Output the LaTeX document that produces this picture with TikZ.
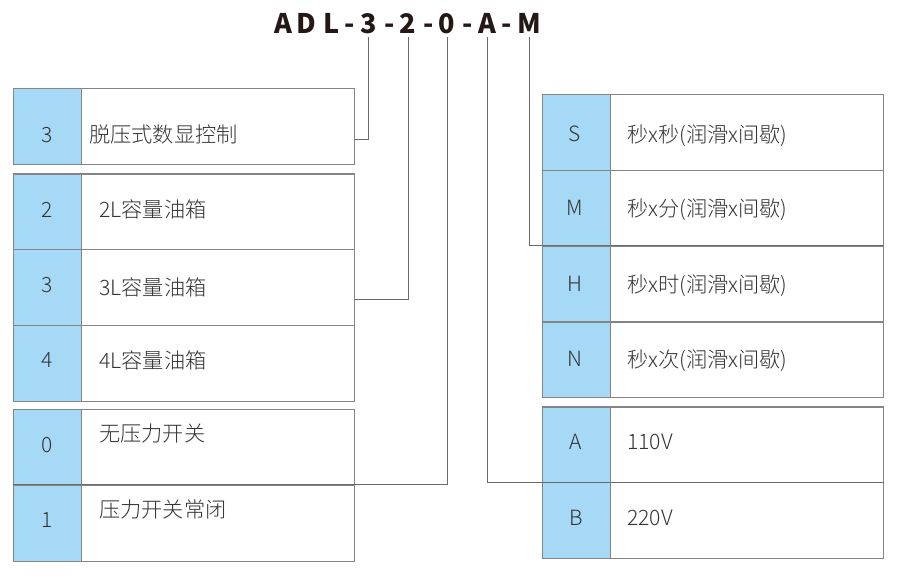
\documentclass[tikz,border=0pt]{standalone}
\usepackage{fontspec}
\setmainfont{Noto Sans CJK SC}
\newfontfamily\lightcjk{Noto Sans CJK SC Light}
\definecolor{cellblue}{HTML}{A5D9F5}
\definecolor{framegrey}{HTML}{858585}
\definecolor{linegrey}{HTML}{6A6A6A}
\definecolor{txt}{HTML}{333333}
\definecolor{ttl}{HTML}{231815}
\begin{document}
\begin{tikzpicture}[x=1pt,y=-1pt,
  cell/.style={draw=framegrey, line width=1.2pt, minimum height=75.8pt, inner sep=0pt, anchor=north west},
  codecell/.style={cell, fill=cellblue, minimum width=68pt},
  desccell/.style={cell, fill=white, minimum width=273pt},
  codetxt/.style={anchor=base, inner sep=0pt, text=txt, font=\lightcjk\fontsize{21}{24}\selectfont},
  desctxt/.style={anchor=base west, inner sep=0pt, text=txt, font=\lightcjk\fontsize{21.2}{24}\selectfont},
  ttlchar/.style={anchor=base, inner sep=0pt, text=ttl, font=\fontsize{27}{30}\selectfont\bfseries},
  conn/.style={draw=linegrey, line width=0.9pt}
]
\useasboundingbox (0,0) rectangle (900,579);

% ---- title ----
\node[ttlchar] (tA1) at (283,33) {A};
\node[ttlchar] (tD)  at (306,33) {D};
\node[ttlchar] (tL)  at (332,33) {L};
\node[ttlchar] (h1)  at (349.5,33) {-};
\node[ttlchar] (t3)  at (368.5,33) {3};
\node[ttlchar] (h2)  at (389.5,33) {-};
\node[ttlchar] (t2)  at (408,33) {2};
\node[ttlchar] (h3)  at (428.5,33) {-};
\node[ttlchar] (t0)  at (447,33) {0};
\node[ttlchar] (h4)  at (467.5,33) {-};
\node[ttlchar] (tA)  at (487,33) {A};
\node[ttlchar] (h5)  at (507,33) {-};
\node[ttlchar] (tM)  at (529,33) {M};

% ---- left group 1 ----
\node[codecell] (L1c) at (13,88) {};
\node[desccell] (L1d) at (81,88) {};
% ---- left group 2 ----
\node[codecell] (L2c) at (13,173.3) {};
\node[desccell] (L2d) at (81,173.3) {};
\node[codecell] (L3c) at (13,249.1) {};
\node[desccell] (L3d) at (81,249.1) {};
\node[codecell] (L4c) at (13,324.9) {};
\node[desccell] (L4d) at (81,324.9) {};
% ---- left group 3 ----
\node[codecell] (L5c) at (13,409) {};
\node[desccell] (L5d) at (81,409) {};
\node[codecell] (L6c) at (13,484.8) {};
\node[desccell] (L6d) at (81,484.8) {};

% ---- right group 1 ----
\node[codecell] (R1c) at (542,94) {};
\node[desccell] (R1d) at (610,94) {};
\node[codecell] (R2c) at (542,169.8) {};
\node[desccell] (R2d) at (610,169.8) {};
\node[codecell] (R3c) at (542,245.6) {};
\node[desccell] (R3d) at (610,245.6) {};
\node[codecell] (R4c) at (542,321.4) {};
\node[desccell] (R4d) at (610,321.4) {};
% ---- right group 2 ----
\node[codecell] (R5c) at (542,406.3) {};
\node[desccell] (R5d) at (610,406.3) {};
\node[codecell] (R6c) at (542,482.1) {};
\node[desccell] (R6d) at (610,482.1) {};

% ---- texts left ----
\node[codetxt] (L1ct) at (47,142.5) {3};
\node[desctxt] (L1dt) at (89,142.5) {脱压式数显控制};
\node[codetxt] (L2ct) at (47,217.5) {2};
\node[desctxt] (L2dt) at (99,217.5) {2L容量油箱};
\node[codetxt] (L3ct) at (47,292.5) {3};
\node[desctxt] (L3dt) at (99,295) {3L容量油箱};
\node[codetxt] (L4ct) at (47,367) {4};
\node[desctxt] (L4dt) at (99,368) {4L容量油箱};
\node[codetxt] (L5ct) at (47,452.5) {0};
\node[desctxt] (L5dt) at (99,441.5) {无压力开关};
\node[codetxt] (L6ct) at (47,527) {1};
\node[desctxt] (L6dt) at (99,517.5) {压力开关常闭};

% ---- texts right ----
\node[codetxt] (R1ct) at (575,141) {S};
\node[desctxt] (R1dt) at (627,142) {秒x秒(润滑x间歇)};
\node[codetxt] (R2ct) at (575,215.7) {M};
\node[desctxt] (R2dt) at (627,216.5) {秒x分(润滑x间歇)};
\node[codetxt] (R3ct) at (575,291) {H};
\node[desctxt] (R3dt) at (627,292) {秒x时(润滑x间歇)};
\node[codetxt] (R4ct) at (575,366.5) {N};
\node[desctxt] (R4dt) at (627,367.5) {秒x次(润滑x间歇)};
\node[codetxt] (R5ct) at (576,449.3) {A};
\node[desctxt] (R5dt) at (627,449.3) {110V};
\node[codetxt] (R6ct) at (576,525) {B};
\node[desctxt] (R6dt) at (627,525) {220V};

% ---- connectors ----
\draw[conn] ([yshift=-4pt]t3.base) |- ([yshift=-13pt]L1d.east);
\draw[conn] ([yshift=-4pt]t2.base) |- ([yshift=-12pt]L3d.east);
\draw[conn] ([yshift=-4pt]t0.base) |- (L6c.north west);
\draw[conn] ([yshift=-4pt]tA.base) |- (R6d.north east);
\draw[conn] ([yshift=-4pt]tM.base) |- (R3d.north east);
\end{tikzpicture}
\end{document}
